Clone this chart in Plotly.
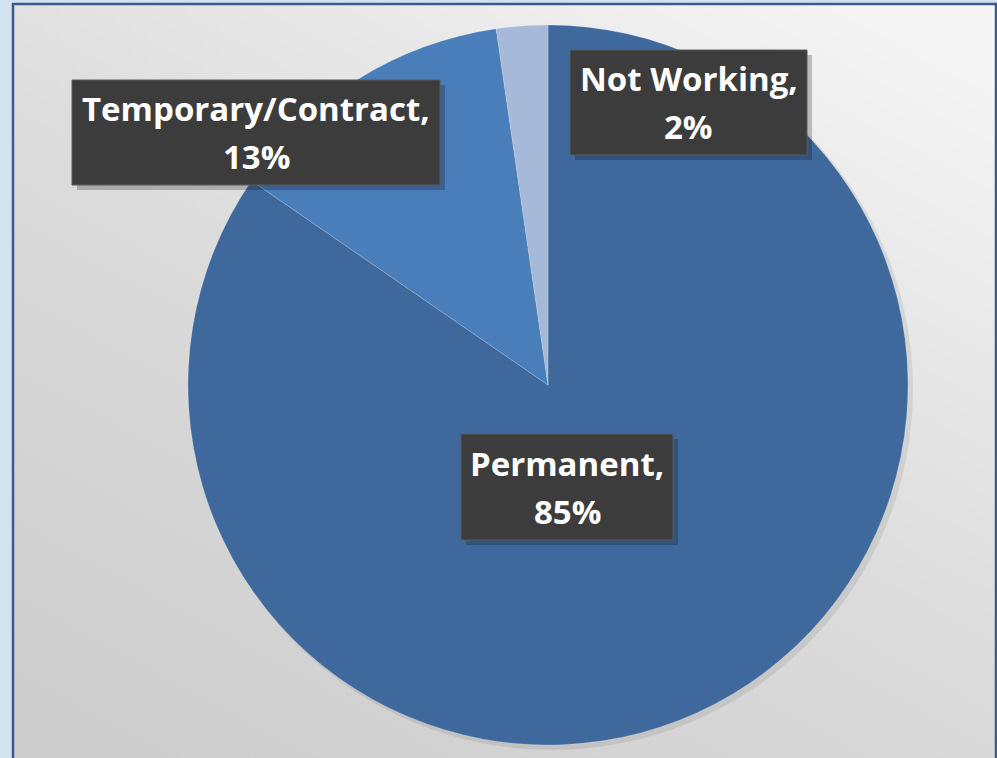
import base64
import plotly.graph_objects as go

# ---- data ----
categories = ["Permanent", "Temporary/Contract", "Not Working"]
values = [84.6, 13.1, 2.3]
display_pct = ["85%", "13%", "2%"]
slice_colors = ["#3f699d", "#4a7ebb", "#a6b9d8"]

W, H = 997, 758

fig = go.Figure()

# soft shadow pie behind
fig.add_trace(go.Pie(
    labels=categories, values=[1], sort=False, direction="clockwise",
    marker=dict(colors=["rgba(0,0,0,0.08)"], line=dict(width=0)),
    textinfo="none", hoverinfo="skip", showlegend=False,
    domain=dict(x=[191/W, 913/W], y=[(H-750)/H, (H-28)/H]),
))

fig.add_trace(go.Pie(
    labels=categories, values=values, sort=False, direction="clockwise", rotation=0,
    marker=dict(colors=slice_colors, line=dict(width=0.6, color="rgba(255,255,255,0.3)")),
    textinfo="none", hoverinfo="label+percent", showlegend=False,
    domain=dict(x=[188/W, 908/W], y=[(H-745)/H, (H-25)/H]),
))

# background gradient panel via SVG image
svg = '''<svg xmlns="http://www.w3.org/2000/svg" width="982" height="760" preserveAspectRatio="none">
<defs><linearGradient id="g" x1="0.15" y1="1" x2="0.85" y2="0">
<stop offset="0" stop-color="#cdcdcd"/><stop offset="0.5" stop-color="#dcdcdc"/><stop offset="1" stop-color="#f4f4f4"/>
</linearGradient></defs><rect width="982" height="760" fill="url(#g)"/></svg>'''
src = "data:image/svg+xml;base64," + base64.b64encode(svg.encode()).decode()
fig.add_layout_image(dict(source=src, xref="paper", yref="paper", x=14/W, y=(H-5)/H,
                          xanchor="left", yanchor="top",
                          sizex=(995-14)/W, sizey=(H-5)/H + 0.01, sizing="stretch", layer="below"))

# panel border
fig.add_shape(type="rect", xref="paper", yref="paper", x0=13/W, x1=996/W, y0=-0.01, y1=(H-4)/H,
              line=dict(color="#3b5b8e", width=2.5), fillcolor="rgba(0,0,0,0)", layer="above")

# label boxes: (left, top, right, bottom) in px
label_boxes = [(461, 434, 673, 540), (72, 80, 440, 185), (570, 50, 807, 155)]
for cat, pct, (bl, bt, br, bb) in zip(categories, display_pct, label_boxes):
    # shadow
    fig.add_shape(type="rect", xref="paper", yref="paper",
                  x0=(bl + 5)/W, x1=(br + 5)/W, y0=(H - bb - 5)/H, y1=(H - bt - 5)/H,
                  fillcolor="rgba(0,0,0,0.22)", line=dict(width=0))
    # box
    fig.add_shape(type="rect", xref="paper", yref="paper",
                  x0=bl/W, x1=br/W, y0=(H - bb)/H, y1=(H - bt)/H,
                  fillcolor="#3c3c3c", line=dict(color="#5a5a5a", width=1))
    cx = (bl + br) / 2 / W
    cy = (H - (bt + bb) / 2) / H
    for txt, dy in ((f"{cat},", 24), (pct, -24)):
        fig.add_annotation(
            x=cx, y=cy + dy / H, xref="paper", yref="paper", showarrow=False,
            xanchor="center", yanchor="middle",
            text=f"<b>{txt}</b>",
            font=dict(family="Open Sans", size=33, color="white"),
        )

fig.update_layout(
    width=W, height=H, margin=dict(l=0, r=0, t=0, b=0),
    paper_bgcolor="#d3e2f1", plot_bgcolor="rgba(0,0,0,0)",
    showlegend=False,
)

fig.write_html("out.html", config={"displayModeBar": False},
               post_script="document.body.style.margin='0';")
